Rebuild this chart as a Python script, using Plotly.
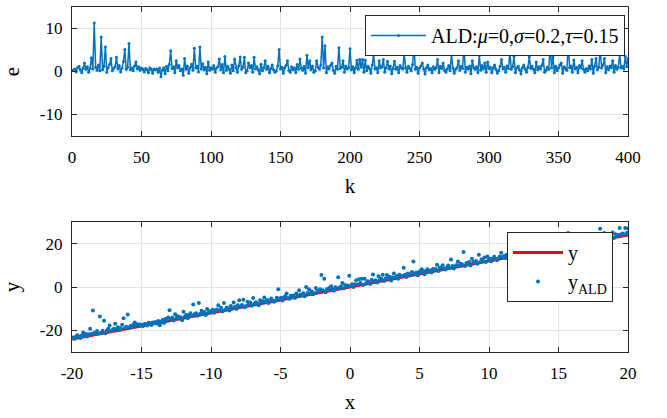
import plotly.graph_objects as go

# noise samples e(k)
e_vals = [
    0.3, 0.6, -0.1, 0.9, 1.2, 0.4, -0.3, 0.8, 2.0, 0.5, 1.1, -0.2, 0.7, 3.2, 0.6, 11.3, 1.0, 0.3, 1.5, 0.2,
    8.0, 0.4, 1.2, 5.7, -0.2, 0.9, 1.6, 3.0, 0.2, 0.7, 1.1, 3.3, 0.6, 1.4, -0.1, 0.8, 2.3, 5.1, 0.5, 1.0,
    6.5, 0.4, 0.9, 0.2, 1.3, 2.2, 0.6, 1.1, 0.3, 0.8, 0.5, -0.1, 0.7, 0.4, -0.3, 0.9, 0.5, -0.4, 0.6, 0.4,
    0.6, -0.2, 0.8, -1.2, 0.3, 0.9, -0.5, 1.2, 0.2, 1.6, 4.8, 0.7, 1.1, -0.3, 2.5, 0.8, 1.4, 0.2, 0.6, -0.9,
    3.0, 0.5, 1.3, -0.4, 0.9, 1.7, 0.3, 5.4, 0.8, 1.2, -0.1, 5.7, 0.6, 1.8, 0.4, 1.0, -0.5, 2.2, 0.3, 0.9,
    0.5, 1.4, -0.2, 0.8, 1.1, 2.9, 0.4, 1.6, -0.3, 3.5, 0.3, 1.2, 0.6, -0.4, 1.5, 0.2, 2.9, 0.8, -0.2, 1.3,
    3.4, 0.5, 1.0, 3.3, -0.3, 0.2, 2.0, 0.9, 1.4, -0.2, 3.3, 0.6, 1.1, 0.4, -0.5, 1.7, 0.2, 0.9, 2.5, 0.5,
    1.2, -0.3, 0.7, 1.5, 0.4, -0.2, 0.1, 1.3, 5.1, 0.6, 1.0, -0.4, 0.8, 1.4, 2.5, 0.3, -0.2, 1.1, 0.4, 0.9,
    -0.3, 1.6, 0.5, 2.9, 0.8, 0.3, 1.2, -0.4, 3.8, 0.9, 2.5, 0.4, 1.3, -0.2, 0.2, 2.5, 1.0, 0.5, 1.5, 8.0,
    0.8, 6.0, -0.3, 1.1, 0.6, 1.4, 2.0, 0.3, -0.4, 1.2, 0.5, 5.5, 0.7, 1.0, 2.5, -0.2, 1.3, 0.6, 0.9, 5.3,
    0.4, 1.1, -0.3, 0.8, 2.6, 0.5, 2.8, 1.0, 2.8, -0.2, 2.6, 0.2, 1.2, 0.7, -0.4, 1.5, 3.8, 0.6, 0.9, -0.3,
    2.5, 0.8, 1.1, 2.8, -0.2, 0.9, 2.4, 0.6, 1.3, -0.5, 0.7, 2.4, 0.5, 1.0, -0.3, 1.4, 0.8, 0.6, 4.2, 0.9,
    -0.2, 1.2, 0.7, 0.2, 1.6, 6.3, 0.5, 1.0, -0.4, 0.8, 1.3, 2.0, 0.6, -0.6, 0.9, 1.5, 0.4, 0.7, -0.3, 1.1,
    0.5, 0.9, 2.8, -0.3, 1.2, 0.7, 2.0, 0.3, -0.2, 0.6, 1.4, 0.2, 4.0, 0.8, -0.4, 0.5, 0.9, 2.5, 0.3, 1.2,
    0.7, 6.3, -0.2, 1.0, 0.6, 1.3, -0.5, 2.5, 0.9, 0.5, 1.1, -0.3, 3.7, 0.3, 1.4, 0.6, 2.0, -0.2, 2.2, 0.7,
    1.0, -0.3, 0.8, 1.5, 0.5, -0.4, 0.2, 1.2, 2.8, 0.6, 1.0, -0.2, 1.3, 0.7, 4.7, 0.5, 1.1, 3.5, -0.3, 0.8,
    1.2, 0.4, -0.6, 0.9, 1.5, 0.6, -0.2, 1.0, 3.4, 0.7, 1.3, 0.5, -0.3, 2.2, 0.4, 1.1, 0.6, 1.4, 2.8, -0.2,
    0.3, 1.0, 0.5, 6.1, 0.9, 3.4, -0.3, 1.2, 0.2, 0.8, 1.5, 2.0, -0.4, 1.1, 0.7, 0.3, 6.1, 0.9, 1.3, -0.2,
    2.7, 0.6, 1.0, -0.3, 1.4, 0.8, 2.5, 0.5, -0.2, 0.7, 0.2, 1.3, 0.6, 2.8, -0.4, 1.2, 3.0, 0.4, 1.0, 5.3,
    0.8, 1.5, 3.0, -0.3, 1.1, 0.4, 1.3, 0.9, 2.5, -0.2, 1.4, 0.5, 1.0, 4.0, 0.8, 1.2, 0.6, 3.5, 1.1, 3.0,
]
k_vals = list(range(1, len(e_vals) + 1))

# regression input and true line slope
x_start, x_end = -20.0, 20.0
slope = 1.2
n = len(e_vals)
x_vals = [x_start + (x_end - x_start) * i / (n - 1) for i in range(n)]
y_true = [slope * xv for xv in x_vals]
y_ald = [yt + ev for yt, ev in zip(y_true, e_vals)]

top_ticks_x = [0, 50, 100, 150, 200, 250, 300, 350, 400]
top_ticks_y = [-10, 0, 10]
bot_ticks_x = [-20, -15, -10, -5, 0, 5, 10, 15, 20]
bot_ticks_y = [-20, 0, 20]

BLUE = "#0072BD"
FONT = "Liberation Serif, Times New Roman, serif"
GRID = "#E3E3E3"

fig = go.Figure()
fig.add_trace(go.Scatter(
    x=k_vals, y=e_vals, mode="lines+markers",
    line=dict(color=BLUE, width=1.5), marker=dict(color=BLUE, size=3),
    name="ALD:<i>μ</i>=0,<i>σ</i>=0.2,<i>τ</i>=0.15",
    xaxis="x", yaxis="y", legend="legend",
))
fig.add_trace(go.Scatter(
    x=x_vals, y=y_true, mode="lines", line=dict(color="#FF0000", width=3),
    name="y", xaxis="x2", yaxis="y2", legend="legend2",
))
fig.add_trace(go.Scatter(
    x=x_vals, y=y_ald, mode="markers", marker=dict(color=BLUE, size=4),
    name="y<sub>ALD</sub>", xaxis="x2", yaxis="y2", legend="legend2",
))

axis_common = dict(
    showgrid=True, gridcolor=GRID, gridwidth=1, automargin=False,
    showline=True, linecolor="#262626", linewidth=1.2, mirror="ticks",
    ticks="inside", ticklen=5, tickcolor="#262626", ticklabelstandoff=5,
    zeroline=False, tickfont=dict(family=FONT, size=17, color="black"),
)

W, H = 667, 418
fig.update_layout(
    width=W, height=H,
    margin=dict(l=0, r=0, t=0, b=0, autoexpand=False),
    paper_bgcolor="white", plot_bgcolor="white",
    font=dict(family=FONT, size=17, color="black"),
    xaxis=dict(axis_common, domain=[72 / W, 628 / W], range=[0, 400], tickvals=top_ticks_x,
               ticktext=[str(v) for v in top_ticks_x],
               anchor="y", title=dict(text="k", font=dict(family=FONT, size=21), standoff=12)),
    yaxis=dict(axis_common, domain=[(H - 136) / H, (H - 7) / H], range=[-15, 15], tickvals=top_ticks_y,
               ticktext=[str(v) for v in top_ticks_y],
               anchor="x", title=dict(text="e", font=dict(family=FONT, size=21), standoff=14)),
    xaxis2=dict(axis_common, domain=[72 / W, 628 / W], range=[-20, 20], tickvals=bot_ticks_x,
                ticktext=[str(v) for v in bot_ticks_x],
                anchor="y2", title=dict(text="x", font=dict(family=FONT, size=21), standoff=12)),
    yaxis2=dict(axis_common, domain=[(H - 352) / H, (H - 222) / H], range=[-30, 30], tickvals=bot_ticks_y,
                ticktext=[str(v) for v in bot_ticks_y],
                anchor="x2", title=dict(text="y", font=dict(family=FONT, size=21), standoff=14)),
    legend=dict(x=625 / W, xanchor="right", y=(H - 15) / H, yanchor="top",
                bgcolor="white", bordercolor="#262626", borderwidth=1,
                font=dict(family=FONT, size=20), itemwidth=55, tracegroupgap=0),
    legend2=dict(x=613 / W, xanchor="right", y=(H - 232) / H, yanchor="top",
                 bgcolor="white", bordercolor="#262626", borderwidth=1,
                 font=dict(family=FONT, size=20), itemwidth=50),
    showlegend=True,
)

fig.write_html("out.html")
